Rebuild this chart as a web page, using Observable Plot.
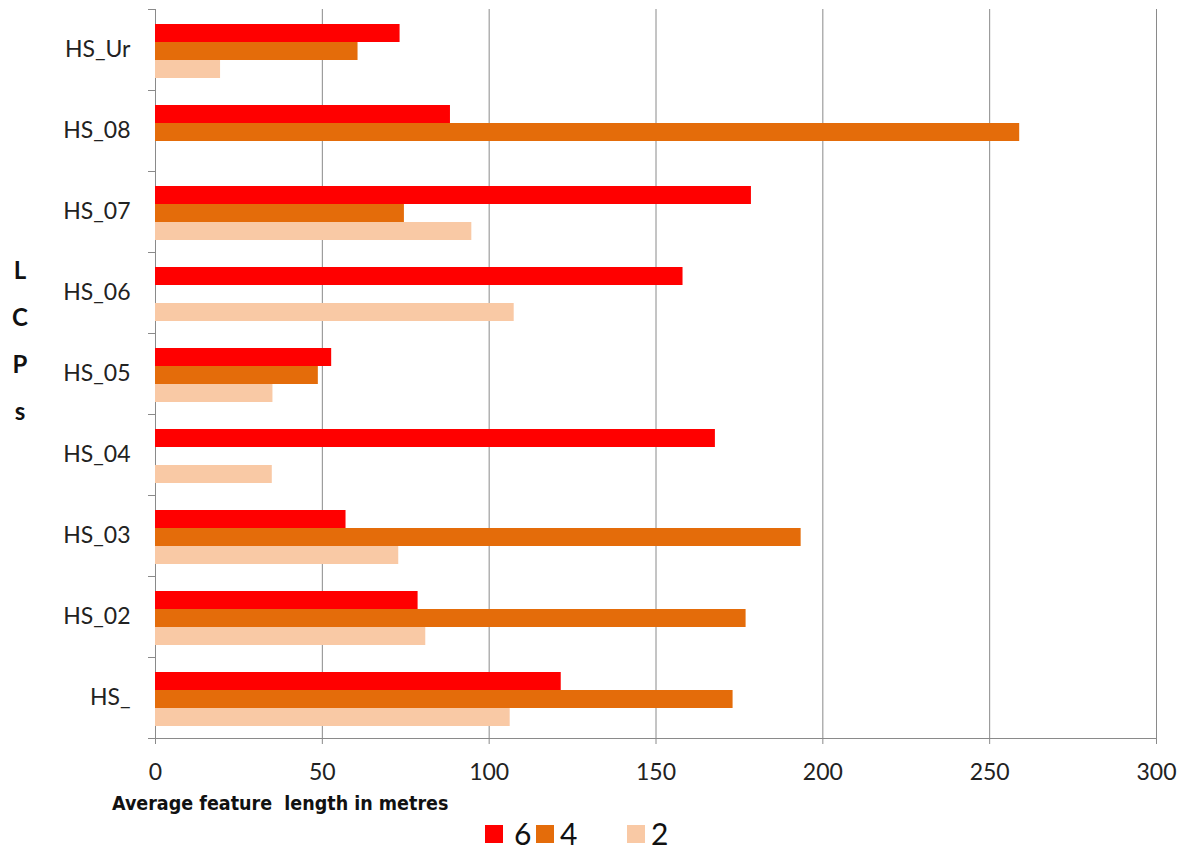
<!DOCTYPE html>
<html>
<head>
<meta charset="utf-8">
<script src="https://cdn.jsdelivr.net/npm/d3@7"></script>
<script src="https://cdn.jsdelivr.net/npm/@observablehq/plot@0.6"></script>
<style>
  html, body { margin: 0; padding: 0; background: #fff; }
  #wrap { position: relative; width: 1185px; height: 852px; overflow: hidden; font-family: Lato, "Open Sans", sans-serif; }
  #chart { position: absolute; left: 0; top: 0; }
  #ylab { position: absolute; left: 0; top: 246px; width: 40px; text-align: center; font: bold 24px/47px Lato, sans-serif; color: #111; }
  #xlab { position: absolute; left: 112px; top: 792px; white-space: pre; font: bold 19.5px "Liberation Sans Narrow", "Arial Narrow", "DejaVu Sans Condensed", sans-serif; color: #111; }
  .sw { position: absolute; width: 18px; height: 18px; top: 825px; }
  .lt { position: absolute; top: 815px; font: 30px Lato, sans-serif; color: #111; line-height: 36px; }
</style>
</head>
<body>
<div id="wrap">
  <div id="chart"></div>
  <div id="ylab">L<br>C<br>P<br>s</div>
  <div id="xlab">Average feature  length in metres</div>
  <div id="legend"></div>
</div>
<script>
const categories = ["HS_Ur", "HS_08", "HS_07", "HS_06", "HS_05", "HS_04", "HS_03", "HS_02", "HS_"];
const seriesNames = ["6", "4", "2"];
const len6 = [73.3, 88.4, 178.6, 158.1, 52.8, 167.8, 57.1, 78.7, 121.6];
const len4 = [60.7, 259, 74.6, null, 48.8, null, 193.5, 177, 173.1];
const len2 = [19.5, null, 94.8, 107.5, 35.2, 35, 72.9, 81, 106.3];
const xTicks = [0, 50, 100, 150, 200, 250, 300];
const seriesColors = ["#FF0000", "#E46C0A", "#F9C9A5"];

const seriesValues = [len6, len4, len2];
const rows = categories.flatMap((cat, i) =>
  seriesNames.map((s, j) => ({cat, series: s, value: seriesValues[j][i]}))
).filter(d => d.value != null);

const W = 1185, ML = 155, MR = 29;
const gray = "#8a8a8a";

const chart = Plot.plot({
  width: W,
  height: 790,
  marginLeft: ML,
  marginRight: MR,
  marginTop: 5,
  marginBottom: 49,
  style: {fontFamily: "Lato, 'Open Sans', sans-serif", fontSize: "23px", color: "#222", background: "#fff"},
  x: {domain: [0, 300]},
  fy: {domain: categories, padding: 0, label: null},
  y: {domain: seriesNames, paddingInner: 0, paddingOuter: 0.73, align: 0.56, axis: null},
  color: {domain: seriesNames, range: seriesColors},
  marks: [
    Plot.ruleX(xTicks, {stroke: gray, strokeWidth: 1}),
    Plot.barX(rows, {fy: "cat", y: "series", x: "value", fill: "series"}),
    Plot.frame({anchor: "top", stroke: gray, insetLeft: -7, insetRight: W - ML - MR}),
    Plot.frame({anchor: "bottom", stroke: gray, insetLeft: -7, facetAnchor: "bottom"}),
    Plot.axisX(xTicks, {anchor: "bottom", tickSize: 6, tickPadding: 19, stroke: gray, fill: "#222", label: null, tickFormat: d => String(d)}),
    Plot.axisFy({anchor: "left", tickSize: 0, tickPadding: 25, fill: "#222", label: null})
  ]
});
document.getElementById("chart").appendChild(chart);

// legend
const legend = document.getElementById("legend");
const swLeft = [485, 536, 627];
const txLeft = [514, 560, 651];
seriesNames.forEach((s, i) => {
  const sw = document.createElement("div");
  sw.className = "sw";
  sw.style.left = swLeft[i] + "px";
  sw.style.background = seriesColors[i];
  legend.appendChild(sw);
  const t = document.createElement("div");
  t.className = "lt";
  t.style.left = txLeft[i] + "px";
  t.textContent = s;
  legend.appendChild(t);
});
</script>
</body>
</html>
